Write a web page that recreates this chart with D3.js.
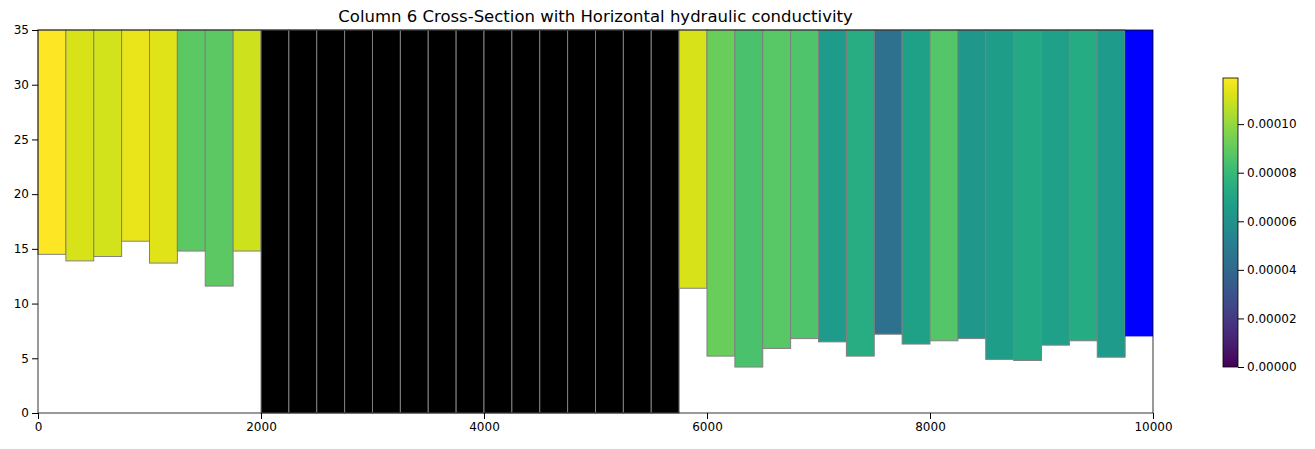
<!DOCTYPE html>
<html><head><meta charset="utf-8">
<script src="https://cdn.jsdelivr.net/npm/d3@7"></script>
<style>body{margin:0;background:#fff;font-family:"DejaVu Sans",sans-serif;}</style>
</head><body><svg id="chart"></svg>
<script>
// cell bottoms (m) for each 250 m column, layer top is 35
const cellBottoms = [14.5, 13.9, 14.3, 15.7, 13.7, 14.8, 11.6, 14.8,
  0, 0, 0, 0, 0, 0, 0, 0, 0, 0, 0, 0, 0, 0, 0,
  11.4, 5.2, 4.2, 5.9, 6.8, 6.5, 5.2, 7.2, 6.3, 6.6, 6.8, 4.9, 4.8, 6.2, 6.6, 5.1, 7.0];
// horizontal hydraulic conductivity; null = inactive, "chd" = constant head
const hk = [0.000119, 0.000112, 0.000111, 0.000115, 0.000113, 0.000089, 0.000089, 0.000110,
  null, null, null, null, null, null, null, null, null, null, null, null, null, null, null,
  0.000112, 0.000092, 0.000085, 0.000088, 0.000086, 0.000065, 0.000074, 0.000044, 0.000068,
  0.000087, 0.000063, 0.000066, 0.000072, 0.000067, 0.000073, 0.000065, "chd"];
const cellWidth = 250;
const layerTop = 35;
const xTicks = [0, 2000, 4000, 6000, 8000, 10000];
const yTicks = [0, 5, 10, 15, 20, 25, 30, 35];
const cbTicks = [0, 0.00002, 0.00004, 0.00006, 0.00008, 0.0001];

const W = 1315, H = 449;
const m = {left: 38, right: 162, top: 30, bottom: 36};
const svg = d3.select("#chart").attr("width", W).attr("height", H);

const x = d3.scaleLinear().domain([0, 10000]).range([m.left, W - m.right]);
const y = d3.scaleLinear().domain([0, 35]).range([H - m.bottom, m.top]);
const vmax = 0.000119;
const color = d3.scaleSequential(d3.interpolateViridis).domain([0, vmax]);

svg.append("g").selectAll("rect")
  .data(cellBottoms)
  .join("rect")
  .attr("x", (d, i) => x(i * cellWidth))
  .attr("width", x(cellWidth) - x(0))
  .attr("y", y(layerTop))
  .attr("height", d => y(d) - y(layerTop))
  .attr("fill", (d, i) => hk[i] === null ? "#000" : hk[i] === "chd" ? "#0000ff" : color(hk[i]))
  .attr("stroke", (d, i) => hk[i] === "chd" ? "none" : "#808080")
  .attr("stroke-width", 1);

svg.append("rect")
  .attr("x", m.left).attr("y", m.top)
  .attr("width", W - m.right - m.left).attr("height", H - m.bottom - m.top)
  .attr("fill", "none").attr("stroke", "#000").attr("stroke-width", 0.8);

const ax = svg.append("g").attr("transform", `translate(0,${H - m.bottom})`)
  .call(d3.axisBottom(x).tickValues(xTicks).tickFormat(d3.format("d")).tickSizeOuter(0));
const ay = svg.append("g").attr("transform", `translate(${m.left},0)`)
  .call(d3.axisLeft(y).tickValues(yTicks).tickSizeOuter(0));
[ax, ay].forEach(a => {
  a.select(".domain").remove();
  a.selectAll("text").attr("font-size", 12).attr("fill", "#000").attr("font-family", "DejaVu Sans");
});

svg.append("text").attr("x", (m.left + W - m.right) / 2).attr("y", 22)
  .attr("text-anchor", "middle").attr("font-size", 16.5).text("Column 6 Cross-Section with Horizontal hydraulic conductivity");

// colorbar
const cb = {x: 1223, w: 15, top: 78, bottom: 367};
const defs = svg.append("defs");
const grad = defs.append("linearGradient").attr("id", "cbgrad")
  .attr("x1", "0%").attr("x2", "0%").attr("y1", "100%").attr("y2", "0%");
d3.range(0, 1.001, 0.05).forEach(t => grad.append("stop")
  .attr("offset", t * 100 + "%").attr("stop-color", d3.interpolateViridis(t)));
svg.append("rect").attr("x", cb.x).attr("y", cb.top).attr("width", cb.w)
  .attr("height", cb.bottom - cb.top).attr("fill", "url(#cbgrad)")
  .attr("stroke", "#000").attr("stroke-width", 0.8);
const cy = d3.scaleLinear().domain([0, vmax]).range([cb.bottom, cb.top]);
const acb = svg.append("g").attr("transform", `translate(${cb.x + cb.w},0)`)
  .call(d3.axisRight(cy).tickValues(cbTicks).tickFormat(d3.format(".5f")).tickSizeOuter(0));
acb.select(".domain").remove();
acb.selectAll("text").attr("font-size", 12).attr("fill", "#000").attr("font-family", "DejaVu Sans");
</script></body></html>
